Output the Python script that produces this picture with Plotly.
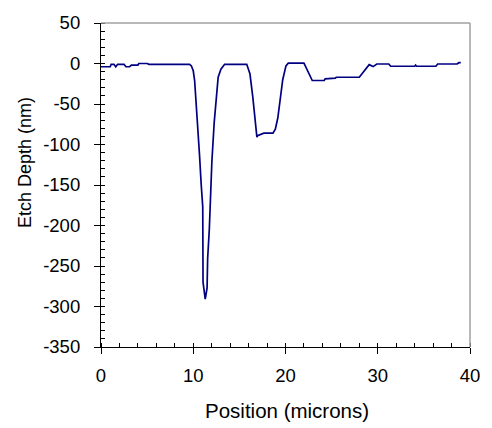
import plotly.graph_objects as go

position = [0.0, 0.5, 1.0, 1.1, 1.4, 1.6, 1.8, 2.0, 2.5, 2.7, 3.1, 3.3, 4.0, 4.1, 5.0, 5.2, 7.0, 9.6,
            9.8, 10.0, 10.15, 10.5, 10.68, 10.86, 11.03, 11.06, 11.2, 11.3, 11.5, 11.56, 11.74, 11.85,
            12.02, 12.27, 12.5, 12.7, 13.0, 13.4, 15.8, 16.15, 16.45, 16.7, 16.9, 16.97, 17.4, 17.65,
            18.64, 18.9, 19.17, 19.4, 19.7, 20.05, 20.3, 22.0, 22.5, 22.9, 24.2, 24.3, 25.4, 25.5,
            28.0, 28.5, 29.07, 29.5, 29.9, 31.2, 31.4, 34.0, 34.1, 34.2, 36.3, 36.5, 38.6, 38.8, 39.0]
depth = [-4, -4, -4, -1, -1, -4, -1, -1, -1, -4, -4, -2, -2, 0, 0, -1, -1, -1,
         -3, -9, -21, -77, -113, -149, -177, -270, -282, -291, -277, -241, -205, -161,
         -121, -73, -41, -17, -7, -1, -1, -13, -41, -69, -91, -89, -87, -86,
         -86, -81, -67, -45, -20, -3, 0.5, 0.5, -11, -21, -21, -19, -18, -17,
         -17, -9, -1.4, -3.8, -0.6, -0.6, -3.4, -3.4, -2, -3.4, -3.4, -0.6, -0.6, 1, 1]

x_ticks = [0, 10, 20, 30, 40]
x_ticktext = ["0", "10", "20", "30", "40"]
y_ticks = [50, 0, -50, -100, -150, -200, -250, -300, -350]
y_ticktext = ["50", "0", "-50", "-100", "-150", "-200", "-250", "-300", "-350"]
x_title = "Position (microns)"
y_title = "Etch Depth (nm)"

family = "Liberation Sans, Arial, sans-serif"
tick_fnt = dict(family=family, size=18.5, color="black")

fig = go.Figure()
fig.add_trace(go.Scatter(x=position, y=depth, mode="lines",
                         line=dict(color="#000080", width=1.7), showlegend=False))
fig.add_trace(go.Scatter(x=[0], y=[0], xaxis="x2", yaxis="y2", mode="markers",
                         marker=dict(opacity=0), showlegend=False, hoverinfo="skip"))

common_x = dict(range=[0, 40], tickvals=x_ticks, showgrid=False, zeroline=False)
common_y = dict(range=[-350, 50], tickvals=y_ticks, showgrid=False, zeroline=False)

fig.update_layout(
    width=492, height=428,
    margin=dict(l=101, r=14, t=14, b=81),
    paper_bgcolor="white", plot_bgcolor="white",
    font=tick_fnt,
    xaxis=dict(**common_x, ticktext=x_ticktext, showline=True, linecolor="black", linewidth=1.2,
               ticks="outside", ticklen=6, tickcolor="black", tickwidth=1, ticklabelstandoff=6,
               minor=dict(dtick=2, ticks="inside", ticklen=4, tickcolor="black"),
               tickfont=tick_fnt),
    yaxis=dict(**common_y, ticktext=y_ticktext, showline=True, linecolor="black", linewidth=1.2,
               ticks="outside", ticklen=6, tickcolor="black", tickwidth=1, ticklabelstandoff=10,
               minor=dict(dtick=10, ticks="inside", ticklen=4, tickcolor="black"),
               tickfont=tick_fnt),
    xaxis2=dict(**common_x, overlaying="x", side="bottom", anchor="y2",
                ticks="inside", ticklen=4, tickcolor="black", showticklabels=False, showline=False),
    yaxis2=dict(**common_y, overlaying="y", side="left", anchor="x2",
                ticks="inside", ticklen=4, tickcolor="black", showticklabels=False, showline=False),
    shapes=[
        dict(type="line", xref="paper", yref="paper", x0=0, x1=1, y0=1, y1=1,
             line=dict(color="#a0a0a0", width=1.5)),
        dict(type="line", xref="paper", yref="paper", x0=1, x1=1, y0=0, y1=1,
             line=dict(color="#a0a0a0", width=1.5)),
    ],
    annotations=[
        dict(text=x_title, xref="paper", yref="paper", x=0.504, y=-0.195,
             xanchor="center", yanchor="middle", showarrow=False,
             font=dict(family=family, size=20.5, color="black")),
        dict(text=y_title, xref="paper", yref="paper", x=-0.204, y=0.57,
             xanchor="center", yanchor="middle", showarrow=False, textangle=-90,
             font=dict(family=family, size=18, color="black")),
    ],
)

fig.write_html("out.html")
